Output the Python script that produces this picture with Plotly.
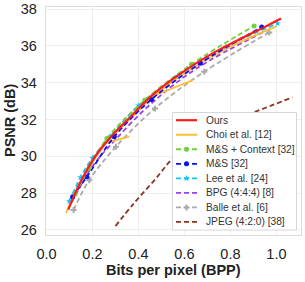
import plotly.graph_objects as go

# ---------------- data ----------------
ours_bpp = [0.095, 0.15, 0.215, 0.28, 0.35, 0.45, 0.55, 0.65, 0.75, 0.85, 0.95, 1.02]
ours_psnr = [27.1, 28.65, 30.05, 31.05, 31.95, 33.2, 34.2, 35.05, 35.78, 36.42, 37.03, 37.48]

choi_bpp = [0.085, 0.13, 0.2, 0.26, 0.35, 0.47, 0.6, 0.8, 1.0]
choi_psnr = [26.9, 28.2, 29.65, 30.72, 31.85, 33.3, 34.5, 35.95, 37.06]
choi_extra_bpp = [0.26, 0.36, None, 0.47, 0.636]
choi_extra_psnr = [30.72, 31.07, None, 33.3, 34.14]

msctx_bpp = [0.125, 0.185, 0.263, 0.428, 0.631, 0.903]
msctx_psnr = [27.95, 29.35, 30.97, 33.05, 35.0, 37.08]

ms_bpp = [0.114, 0.176, 0.295, 0.457, 0.669, 0.936]
ms_psnr = [27.8, 28.89, 31.06, 33.09, 35.05, 37.02]

lee_bpp = [0.099, 0.148, 0.2, 0.28, 0.4, 0.57, 0.78, 1.005]
lee_psnr = [27.55, 28.85, 29.9, 31.1, 32.75, 34.35, 35.95, 37.22]

bpg_bpp = [0.11, 0.2, 0.3, 0.45, 0.65, 0.96]
bpg_psnr = [27.5, 29.45, 30.9, 32.8, 34.75, 36.85]

balle_bpp = [0.118, 0.186, 0.302, 0.472, 0.686, 0.969]
balle_psnr = [27.08, 28.7, 30.52, 32.6, 34.59, 36.73]

jpeg_bpp = [0.30, 0.38, 0.47, 0.556, 0.7, 0.8, 0.904, 1.07]
jpeg_psnr = [26.2, 27.44, 28.7, 29.97, 31.3, 31.9, 32.4, 33.2]

legend_labels = ["Ours", "Choi et al. [12]", "M&S + Context [32]", "M&S [32]",
                 "Lee et al. [24]", "BPG (4:4:4) [8]", "Balle et al. [6]", "JPEG (4:2:0) [38]"]

x_ticks = [0.0, 0.2, 0.4, 0.6, 0.8, 1.0]
y_ticks = [26, 28, 30, 32, 34, 36, 38]
x_title = "Bits per pixel (BPP)"
y_title = "PSNR (dB)"

# ---------------- styles ----------------
C_OURS = "#ff1a1a"
C_CHOI = "#ffbf33"
C_CTX = "#6fd03c"
C_MS = "#0a14f0"
C_LEE = "#12c6f5"
C_BPG = "#a040f5"
C_BALLE = "#aaaaaa"
C_JPEG = "#8e3426"
DASH = "5px,3px"
FONT = "'Liberation Sans', Arial, sans-serif"

fig = go.Figure()


def add(x, y, color, width=1.8, dash=DASH, symbol=None, msize=5, shape="spline"):
    mode = "lines+markers" if symbol else "lines"
    kw = dict(x=x, y=y, mode=mode, showlegend=False, hoverinfo="skip",
              line=dict(color=color, width=width, dash=dash, shape=shape))
    if symbol:
        kw["marker"] = dict(symbol=symbol, size=msize, color=color, line=dict(width=0))
    fig.add_trace(go.Scatter(**kw))


add(jpeg_bpp, jpeg_psnr, C_JPEG)
add(balle_bpp, balle_psnr, C_BALLE, symbol="cross", msize=5)
add(bpg_bpp, bpg_psnr, C_BPG)
add(choi_bpp, choi_psnr, C_CHOI, width=1.8, dash="solid")
add(choi_extra_bpp, choi_extra_psnr, C_CHOI, width=1.8, dash="solid", shape="linear")
add(lee_bpp, lee_psnr, C_LEE, symbol="star", msize=5)
add(ms_bpp, ms_psnr, C_MS, symbol="circle", msize=5)
add(msctx_bpp, msctx_psnr, C_CTX, symbol="circle", msize=5)
add(ours_bpp, ours_psnr, C_OURS, width=2.2, dash="solid")

# ---------------- manual legend (compact rows, like the reference) ----------------
# overlay axes measured in plot-area pixels (255 x 228)
BOX_X0, BOX_X1, BOX_Y0, BOX_Y1 = 126.5, 250.5, 105.5, 223
ROW0, ROW_STEP = 113.2, 14.53
SAMPLE_X0, SAMPLE_X1, TEXT_X = 130, 151, 158
legend_styles = [
    (C_OURS, 2.2, "solid", None, 5),
    (C_CHOI, 2.0, "solid", None, 5),
    (C_CTX, 1.8, DASH, "circle", 5),
    (C_MS, 1.8, DASH, "circle", 5),
    (C_LEE, 1.8, DASH, "star", 5),
    (C_BPG, 1.8, DASH, None, 5),
    (C_BALLE, 1.8, DASH, "cross", 5),
    (C_JPEG, 1.8, DASH, None, 5),
]

fig.add_trace(go.Scatter(
    x=[BOX_X0, BOX_X1, BOX_X1, BOX_X0, BOX_X0],
    y=[BOX_Y0, BOX_Y0, BOX_Y1, BOX_Y1, BOX_Y0],
    xaxis="x2", yaxis="y2", mode="lines", fill="toself", fillcolor="white",
    line=dict(color="#d6d6d6", width=1), showlegend=False, hoverinfo="skip"))

annotations = []
for i, (label, (col, w, dsh, sym, ms)) in enumerate(zip(legend_labels, legend_styles)):
    yy = ROW0 + ROW_STEP * i
    fig.add_trace(go.Scatter(
        x=[SAMPLE_X0, SAMPLE_X1], y=[yy, yy], xaxis="x2", yaxis="y2", mode="lines",
        line=dict(color=col, width=w, dash=dsh), showlegend=False, hoverinfo="skip"))
    if sym:
        fig.add_trace(go.Scatter(
            x=[(SAMPLE_X0 + SAMPLE_X1) / 2], y=[yy], xaxis="x2", yaxis="y2", mode="markers",
            marker=dict(symbol=sym, size=ms, color=col, line=dict(width=0)),
            showlegend=False, hoverinfo="skip"))
    annotations.append(dict(x=TEXT_X, y=yy, xref="x2", yref="y2", text=label,
                            showarrow=False, xanchor="left", yanchor="middle",
                            font=dict(family=FONT, size=10.2, color="#333333")))

# axis titles (placed like the reference)
annotations.append(dict(x=0.5, y=-0.1535, xref="paper", yref="paper", text=f"<b>{x_title}</b>",
                        showarrow=False, xanchor="center", yanchor="middle",
                        font=dict(family=FONT, size=14.5, color="#222222")))
annotations.append(dict(x=-0.141, y=0.5, xref="paper", yref="paper", text=f"<b>{y_title}</b>",
                        showarrow=False, xanchor="center", yanchor="middle", textangle=-90,
                        font=dict(family=FONT, size=14.5, color="#222222")))

fig.update_layout(
    width=305, height=282,
    margin=dict(l=46, r=4, t=7, b=47, autoexpand=False),
    paper_bgcolor="white", plot_bgcolor="white",
    font=dict(family=FONT, color="#222222"),
    showlegend=False,
    annotations=annotations,
    xaxis=dict(range=[-0.002, 1.107], tickvals=x_ticks, ticktext=[f"{v:.1f}" for v in x_ticks],
               showgrid=True, gridcolor="#eeeeee", gridwidth=1, zeroline=False,
               showline=True, linecolor="#dcdcdc", linewidth=1.2, mirror=True, automargin=False,
               ticks="", ticklabelstandoff=5, tickfont=dict(size=14.5, color="#222222")),
    yaxis=dict(range=[25.72, 38.11], tickvals=y_ticks, ticktext=[str(v) for v in y_ticks],
               showgrid=True, gridcolor="#eeeeee", gridwidth=1, zeroline=False,
               showline=True, linecolor="#dcdcdc", linewidth=1.2, mirror=True, automargin=False,
               ticks="", ticklabelstandoff=5, tickfont=dict(size=14.5, color="#222222")),
    xaxis2=dict(overlaying="x", range=[0, 255], visible=False, fixedrange=True, automargin=False),
    yaxis2=dict(overlaying="y", anchor="x2", range=[228, 0], visible=False, fixedrange=True,
                automargin=False),
)

fig.write_html("out.html",
               config={"displayModeBar": False, "staticPlot": True},
               post_script="document.body.style.margin='0';document.body.style.padding='0';")
